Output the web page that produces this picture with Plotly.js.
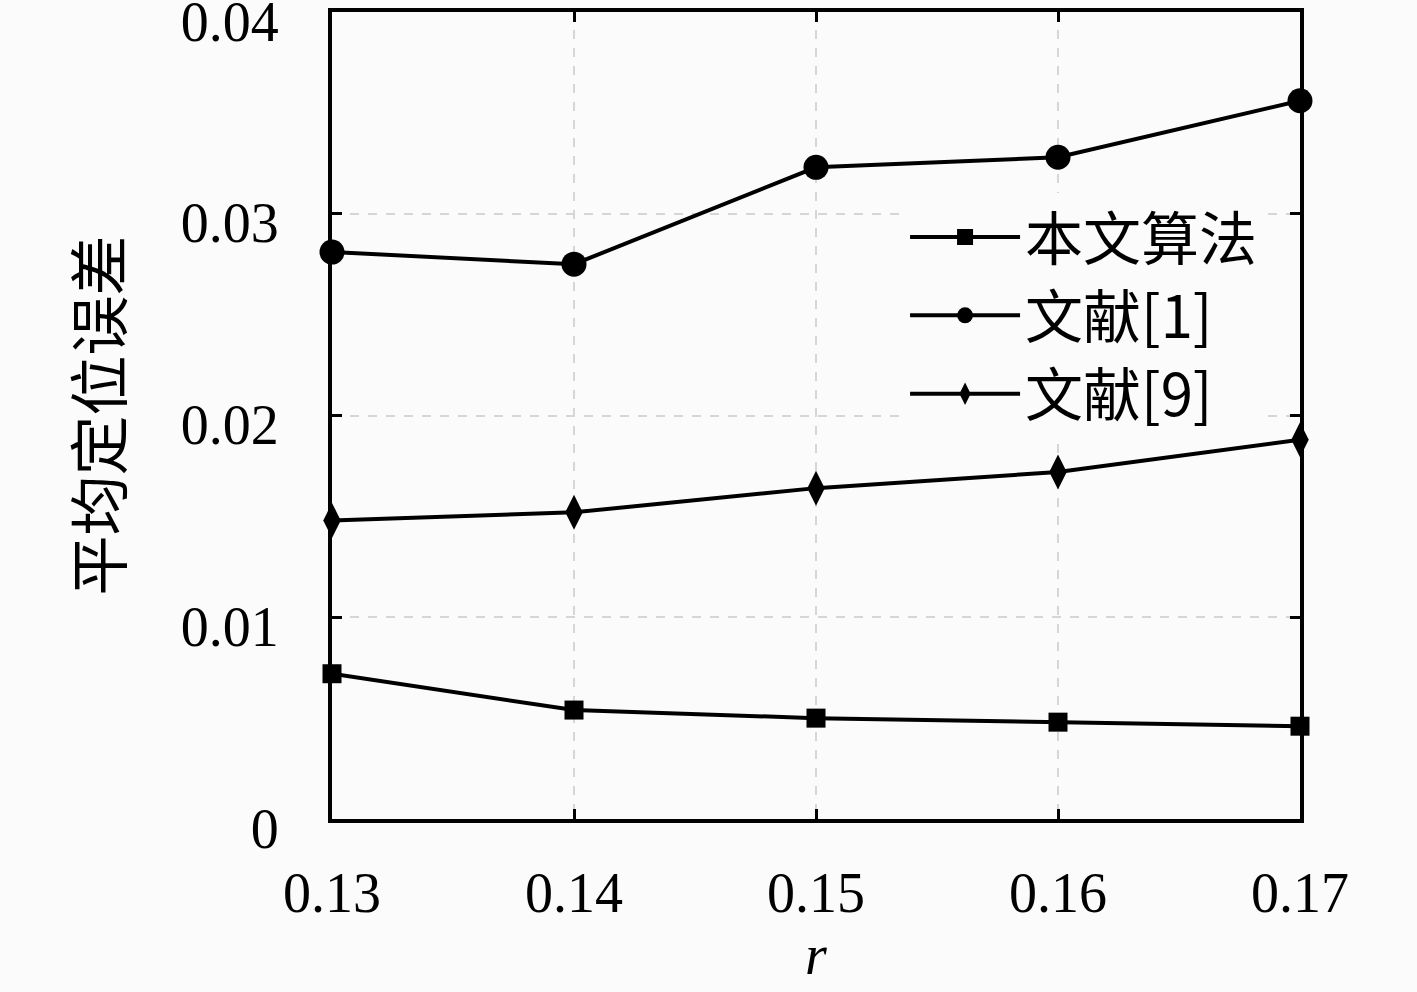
<!DOCTYPE html>
<html>
<head>
<meta charset="utf-8">
<script src="https://cdn.plot.ly/plotly-3.0.1.min.js"></script>
<style>html,body{margin:0;padding:0;background:#fbfbfb;}</style>
</head>
<body>
<div id="chart" style="width:1417px;height:992px;"></div>
<script>
const rValues = [0.13, 0.14, 0.15, 0.16, 0.17];
const seriesNames = ['本文算法', '文献[1]', '文献[9]'];
const oursErr = [0.0072, 0.0054, 0.0050, 0.0048, 0.0046];
const ref1Err = [0.0281, 0.0275, 0.0323, 0.0328, 0.0356];
const ref9Err = [0.0148, 0.0152, 0.0164, 0.0172, 0.0188];
const xTickVals = [0.13, 0.14, 0.15, 0.16, 0.17];
const xTickText = ['0.13', '0.14', '0.15', '0.16', '0.17'];
const yTickVals = [0, 0.01, 0.02, 0.03, 0.04];
const yTickText = ['0', '0.01', '0.02', '0.03', '0.04'];

const serif = '"Liberation Serif", "DejaVu Serif", "Noto Sans CJK SC", serif';
const lineStyle = {color: '#000', width: 4};

const traces = [
  {x: rValues, y: oursErr, name: seriesNames[0], mode: 'lines+markers', type: 'scatter',
   line: lineStyle, marker: {symbol: 'square', size: 19, color: '#000'}, cliponaxis: false},
  {x: rValues, y: ref1Err, name: seriesNames[1], mode: 'lines+markers', type: 'scatter',
   line: lineStyle, marker: {symbol: 'circle', size: 25, color: '#000'}, cliponaxis: false},
  {x: rValues, y: ref9Err, name: seriesNames[2], mode: 'lines+markers', type: 'scatter',
   line: lineStyle, marker: {symbol: 'diamond-tall', size: 25, color: '#000'}, cliponaxis: false}
];

const layout = {
  width: 1417, height: 992,
  margin: {l: 332, r: 117, t: 12, b: 173},
  paper_bgcolor: '#fbfbfb', plot_bgcolor: '#fbfbfb',
  font: {family: serif, size: 56, color: '#000'},
  showlegend: true,
  legend: {
    x: 0.592, y: 0.776, xanchor: 'left', yanchor: 'top',
    bgcolor: '#fbfbfb', borderwidth: 0,
    font: {family: '"Noto Sans CJK SC", "Liberation Serif", serif', size: 58, color: '#000'},
    itemwidth: 110, tracegroupgap: 0, itemsizing: 'trace'
  },
  xaxis: {
    range: [0.13, 0.17], tickmode: 'array', tickvals: xTickVals, ticktext: xTickText,
    ticks: 'inside', ticklen: 10, tickwidth: 3, tickcolor: '#000',
    showline: true, linecolor: '#000', linewidth: 4, mirror: 'ticks',
    showgrid: true, gridcolor: '#d6d6d6', gridwidth: 2, griddash: 'dash',
    zeroline: false, ticklabelstandoff: 22,
    tickfont: {family: serif, size: 56},
    title: {text: '<i>r</i>', font: {family: serif, size: 56}, standoff: 10}
  },
  yaxis: {
    range: [0, 0.04], tickmode: 'array', tickvals: yTickVals, ticktext: yTickText,
    ticks: 'inside', ticklen: 10, tickwidth: 3, tickcolor: '#000',
    showline: true, linecolor: '#000', linewidth: 4, mirror: 'ticks',
    showgrid: true, gridcolor: '#d6d6d6', gridwidth: 2, griddash: 'dash',
    zeroline: false, ticklabelstandoff: 38, ticklabeloverflow: 'allow', ticklabelshift: 9,
    tickfont: {family: serif, size: 56},
    title: {text: '平均定位误差', font: {family: '"Noto Sans CJK SC", serif', size: 60}, standoff: 40}
  }
};

Plotly.newPlot('chart', traces, layout, {displayModeBar: false, staticPlot: true});
</script>
</body>
</html>
